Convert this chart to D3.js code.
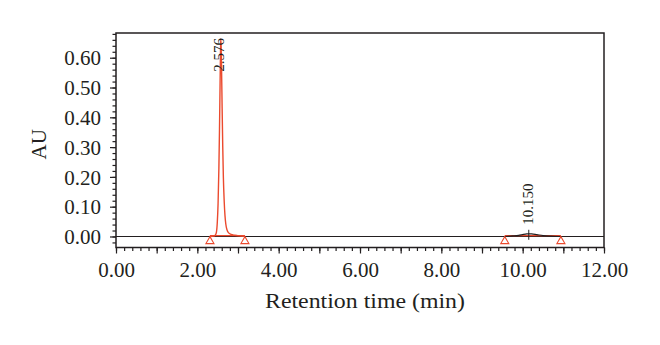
<!DOCTYPE html>
<html>
<head>
<meta charset="utf-8">
<script src="https://cdn.jsdelivr.net/npm/d3@7"></script>
<style>
  html, body { margin: 0; padding: 0; background: #fff; }
  svg { display: block; }
  text { font-family: "Liberation Serif", "DejaVu Serif", serif; fill: #231f20; }
</style>
</head>
<body>
<svg id="chart" width="660" height="345"></svg>
<script>
// ---- data ----
const xTickLabels = ["0.00", "2.00", "4.00", "6.00", "8.00", "10.00", "12.00"];
const yTickLabels = ["0.00", "0.10", "0.20", "0.30", "0.40", "0.50", "0.60"];
const xDomain = [0, 12];
const yDomain = [-0.037, 0.683];

// peak 1 trace (time, AU)
const peak1Time = [2.31, 2.40, 2.44, 2.47, 2.49, 2.51, 2.53, 2.545, 2.56, 2.57, 2.576, 2.585, 2.595, 2.61, 2.625, 2.64, 2.66, 2.68, 2.70, 2.73, 2.77, 2.83, 2.92, 3.02, 3.17];
const peak1AU   = [0.000, 0.001, 0.004, 0.015, 0.045, 0.11, 0.23, 0.36, 0.52, 0.62, 0.663, 0.64, 0.57, 0.43, 0.30, 0.20, 0.12, 0.07, 0.042, 0.022, 0.012, 0.007, 0.004, 0.002, 0.001];

// peak 2 trace (time, AU)
const peak2Time = [9.56, 9.75, 9.90, 10.02, 10.10, 10.15, 10.22, 10.35, 10.50, 10.70, 10.94];
const peak2AU   = [0.000, 0.002, 0.004, 0.007, 0.0085, 0.009, 0.0085, 0.006, 0.003, 0.001, 0.000];

// integrated peaks
const peakLabels = ["2.576", "10.150"];
const peakApexTime = [2.576, 10.150];
const peakApexAU = [0.663, 0.009];
const peakStart = [2.31, 9.56];
const peakEnd = [3.17, 10.94];

const xTitle = "Retention time (min)";
const yTitle = "AU";

// ---- layout ----
const W = 660, H = 345;
const margin = { top: 33, right: 56, bottom: 97.5, left: 116 };
const svg = d3.select("#chart");
const x = d3.scaleLinear().domain(xDomain).range([margin.left, W - margin.right]);
const y = d3.scaleLinear().domain(yDomain).range([H - margin.bottom, margin.top]);

const red = "#eb4a2e";
const ink = "#231f20";

// frame
svg.append("rect")
  .attr("x", x(xDomain[0])).attr("y", y(yDomain[1]))
  .attr("width", x(xDomain[1]) - x(xDomain[0]))
  .attr("height", y(yDomain[0]) - y(yDomain[1]))
  .attr("fill", "none").attr("stroke", ink).attr("stroke-width", 1.5);

// x axis: minor ticks every 0.2, medium every 1, labels every 2
const xAxisG = svg.append("g").attr("transform", `translate(0,${y(yDomain[0])})`);
xAxisG.call(d3.axisBottom(x).tickValues(d3.range(0, 12.001, 0.2)).tickSize(3.5).tickFormat(""))
  .call(g => g.select(".domain").remove());
xAxisG.append("g").call(d3.axisBottom(x).tickValues(d3.range(0, 12.001, 1)).tickSize(6).tickFormat(""))
  .call(g => g.select(".domain").remove());
const xLab = svg.append("g").attr("transform", `translate(0,${y(yDomain[0])})`)
  .call(d3.axisBottom(x).tickValues(xTickLabels.map(Number)).tickSize(0).tickPadding(15)
    .tickFormat((d, i) => xTickLabels[i]));
xLab.select(".domain").remove();
xLab.selectAll("text").attr("font-size", 21).attr("font-family", null).attr("fill", ink);
svg.selectAll(".tick line").attr("stroke", ink).attr("stroke-width", 1.2);

// y axis
const yAxisG = svg.append("g").attr("transform", `translate(${x(xDomain[0])},0)`);
yAxisG.call(d3.axisLeft(y).tickValues(d3.range(-0.02, 0.681, 0.02)).tickSize(3.5).tickFormat(""))
  .call(g => g.select(".domain").remove());
const yMaj = svg.append("g").attr("transform", `translate(${x(xDomain[0])},0)`)
  .call(d3.axisLeft(y).tickValues(yTickLabels.map(Number)).tickSize(6).tickPadding(9)
    .tickFormat((d, i) => yTickLabels[i]));
yMaj.select(".domain").remove();
yMaj.selectAll("text").attr("font-size", 21).attr("font-family", null).attr("fill", ink).attr("dy", "0.34em");
svg.selectAll(".tick line").attr("stroke", ink).attr("stroke-width", 1.2);

// axis titles
svg.append("text")
  .attr("x", (x(xDomain[0]) + x(xDomain[1])) / 2 + 5)
  .attr("y", 308)
  .attr("text-anchor", "middle").attr("font-size", 22)
  .attr("textLength", 200).attr("lengthAdjust", "spacingAndGlyphs")
  .text(xTitle);
svg.append("text")
  .attr("transform", `translate(46,${(y(yDomain[1]) + y(yDomain[0])) / 2 + 4}) rotate(-90)`)
  .attr("text-anchor", "middle").attr("font-size", 21)
  .text(yTitle);

// baseline trace (black) at 0
svg.append("line")
  .attr("x1", x(xDomain[0])).attr("x2", x(xDomain[1]))
  .attr("y1", y(0)).attr("y2", y(0))
  .attr("stroke", ink).attr("stroke-width", 1.2);

const line = d3.line().x(d => x(d[0])).y(d => y(d[1])).curve(d3.curveMonotoneX);

// red integration baselines
peakStart.forEach((s, i) => {
  svg.append("line")
    .attr("x1", x(s)).attr("x2", x(peakEnd[i]))
    .attr("y1", y(0) - 0.8).attr("y2", y(0) - 0.8)
    .attr("stroke", red).attr("stroke-width", 1.2);
});

// peak 2 trace (black)
svg.append("path")
  .datum(peak2Time.map((t, i) => [t, peak2AU[i]]))
  .attr("d", line).attr("fill", "none").attr("stroke", ink).attr("stroke-width", 1.2);

// peak 1 trace (red)
svg.append("path")
  .datum(peak1Time.map((t, i) => [t, peak1AU[i]]))
  .attr("d", line).attr("fill", "none").attr("stroke", red).attr("stroke-width", 1.4);

// start/end triangles
const tri = d3.symbol().type(d3.symbolTriangle).size(28);
[...peakStart, ...peakEnd].forEach(t => {
  svg.append("path")
    .attr("d", tri)
    .attr("transform", `translate(${x(t)},${y(0) + 4.8})`)
    .attr("fill", "#fff").attr("stroke", red).attr("stroke-width", 1.1);
});

// apex tick + labels
peakLabels.forEach((lab, i) => {
  const px = x(peakApexTime[i]);
  const py = y(peakApexAU[i]);
  const fits = py - 12 - 45 > y(yDomain[1]);
  if (fits) {
    svg.append("line")
      .attr("x1", px).attr("x2", px)
      .attr("y1", py - 4).attr("y2", py + 6)
      .attr("stroke", ink).attr("stroke-width", 1);
    svg.append("text")
      .attr("transform", `translate(${px + 4},${py - 9}) rotate(-90)`)
      .attr("text-anchor", "start").attr("font-size", 15)
      .text(lab);
  } else {
    svg.append("text")
      .attr("transform", `translate(${px + 3},${y(yDomain[1]) + 5}) rotate(-90)`)
      .attr("text-anchor", "end").attr("font-size", 15)
      .text(lab);
  }
});
</script>
</body>
</html>
